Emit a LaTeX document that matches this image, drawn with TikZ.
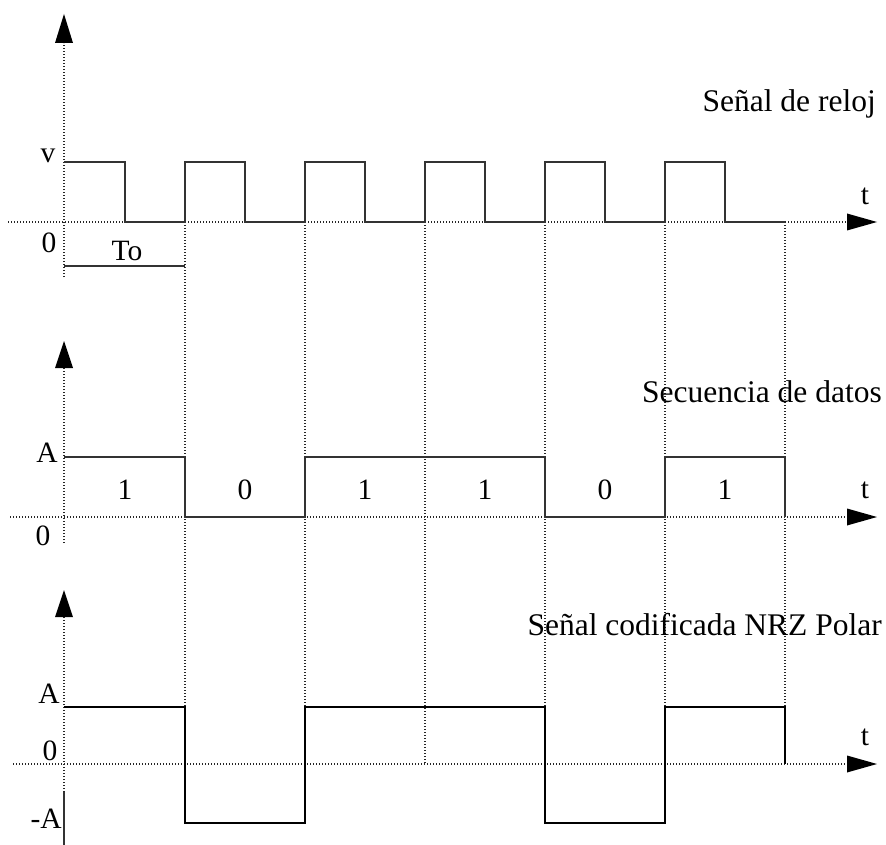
\documentclass[tikz,border=0pt]{standalone}
\usepackage{fontspec}
\setmainfont{Liberation Serif}
\usetikzlibrary{arrows.meta}
\begin{document}
\begin{tikzpicture}[x=1pt,y=-1pt,
  dot/.style={line width=1.1pt, dash pattern=on 1.1pt off 1.9pt, black!85},
  sig/.style={line width=1.2pt, black!80},
  nrz/.style={line width=2.2pt, black},
  lbl/.style={font=\fontsize{29.5}{34}\selectfont, inner sep=0pt, anchor=base},
  ttl/.style={font=\fontsize{31.5}{36}\selectfont, inner sep=0pt, anchor=base east},
]
\useasboundingbox (0,0) rectangle (886,845);
% ---------- section 1: clock ----------
\coordinate (ax1b) at (64,277);
\coordinate (ax1t) at (64,43);
\draw[dot] (ax1b) -- (ax1t);
\fill (55,43) -- (73,43) -- (64,14) -- cycle;
\coordinate (t1l) at (8,222);
\coordinate (t1r) at (847,222);
\draw[dot] (t1l) -- (t1r);
\fill (847,213.5) -- (847,230.5) -- (877,222) -- cycle;
\foreach \x in {185,305,425,545,665,785} \draw[dot] (\x,222) -- (\x,764);
\draw[sig] (64,162) -- (125,162) -- (125,222) -- (185,222)
  -- (185,162) -- (245,162) -- (245,222) -- (305,222)
  -- (305,162) -- (365,162) -- (365,222) -- (425,222)
  -- (425,162) -- (485,162) -- (485,222) -- (545,222)
  -- (545,162) -- (605,162) -- (605,222) -- (665,222)
  -- (665,162) -- (725,162) -- (725,222) -- (785,222);
\draw[sig] (64,266) -- (185,266);
\node[lbl] (lv) at (48,163) {v};
\node[lbl] (l01) at (49,252) {0};
\node[lbl] (lTo) at (127,260) {To};
\node[lbl] (tt1) at (865,205) {t};
\node[ttl] (title1) at (876,112) {Señal de reloj};
% ---------- section 2: data ----------
\draw[dot] (64,543) -- (64,368);
\fill (55,368) -- (73,368) -- (64,341) -- cycle;
\draw[dot] (10,517) -- (847,517);
\fill (847,508.5) -- (847,525.5) -- (877,517) -- cycle;
\draw[sig] (64,457) -- (185,457) -- (185,517) -- (305,517) -- (305,457)
  -- (545,457) -- (545,517) -- (665,517) -- (665,457) -- (785,457) -- (785,517);
\node[lbl] (lA2) at (47,462) {A};
\node[lbl] (l02) at (43,545) {0};
\foreach \x/\b in {125/1,245/0,365/1,485/1,605/0,725/1}
  \node[lbl] at (\x,499) {\b};
\node[lbl] (tt2) at (865,498) {t};
\node[ttl] (title2) at (882,402) {Secuencia de datos};
% ---------- section 3: NRZ polar ----------
\draw[dot] (64,792) -- (64,617);
\fill (55,617) -- (73,617) -- (64,590) -- cycle;
\draw[sig] (64,792) -- (64,845);
\draw[dot] (13,764) -- (847,764);
\fill (847,755.5) -- (847,772.5) -- (877,764) -- cycle;
\draw[nrz] (64,707) -- (185,707) -- (185,823) -- (305,823) -- (305,707)
  -- (545,707) -- (545,823) -- (665,823) -- (665,707) -- (785,707) -- (785,764);
\node[lbl] (lA3) at (49,703) {A};
\node[lbl] (l03) at (50,760) {0};
\node[lbl,anchor=base east] (lmA) at (62,828) {-A};
\node[lbl] (tt3) at (865,745) {t};
\node[ttl] (title3) at (882,635) {Señal codificada NRZ Polar};
\end{tikzpicture}
\end{document}
